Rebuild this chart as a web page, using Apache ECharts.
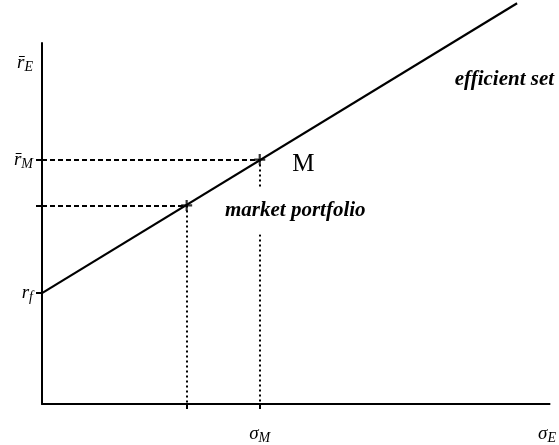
<!DOCTYPE html>
<html>
<head>
<meta charset="utf-8">
<script src="https://cdn.jsdelivr.net/npm/echarts@6/dist/echarts.min.js"></script>
<style>
  html, body { margin: 0; padding: 0; background: #fff; }
  #main { width: 559px; height: 445px; }
</style>
</head>
<body>
<div id="main"></div>
<script>
// capital market line: risk (sigma) on x, expected return on y
const rf = 3.07
const lineEnd = [9.36, 11.1]
const marketPt = [4.29, 6.77]   // M
const otherPt = [2.85, 5.5]     // point below M on the line
const rE = 9.45                  // where the r_E label sits
const sigmaE = 9.95              // where the sigma_E label sits

const serif = 'Liberation Serif'
const chart = echarts.init(document.getElementById('main'))

const yLabels = {}
yLabels[rE] = '{r|r\u0304}{s|E}'
yLabels[marketPt[1]] = '{r|r\u0304}{s|M}'
yLabels[rf] = '{r|r}{s|f}'

const xLabels = {}
xLabels[marketPt[0]] = '{r|\u03c3}{s|M}'
xLabels[sigmaE] = '{r|\u03c3}{s|E}'

const mathRich = {
  r: { fontFamily: serif, fontStyle: 'italic', fontSize: 19, color: '#000' },
  s: { fontFamily: serif, fontStyle: 'italic', fontSize: 14, color: '#000', padding: [9, 0, 0, 0] }
}

const crossPath = 'path://M4,0H6V4H10V6H6V10H4V6H0V4H4Z'

const option = {
  backgroundColor: '#fff',
  animation: false,
  grid: { left: 42, right: 4, top: 43, bottom: 37 },
  xAxis: {
    type: 'value', min: 0, max: 10,
    axisLine: { lineStyle: { color: '#000', width: 2 } },
    splitLine: { show: false },
    axisTick: { customValues: [otherPt[0], marketPt[0]], length: 5, lineStyle: { color: '#000', width: 2 } },
    axisLabel: {
      customValues: [marketPt[0], sigmaE],
      margin: 18,
      formatter: v => xLabels[v] || '',
      rich: mathRich
    }
  },
  yAxis: {
    type: 'value', min: 0, max: 10,
    axisLine: { lineStyle: { color: '#000', width: 2 } },
    splitLine: { show: false },
    axisTick: { customValues: [rf, otherPt[1], marketPt[1]], length: 6, lineStyle: { color: '#000', width: 2 } },
    axisLabel: {
      customValues: [rf, marketPt[1], rE],
      margin: 9,
      formatter: v => yLabels[v] || '',
      rich: mathRich
    }
  },
  series: [
    {
      type: 'line',
      clip: false,
      symbol: 'none',
      data: [[0, rf], lineEnd],
      lineStyle: { color: '#000', width: 2.2 },
      markLine: {
        silent: true,
        symbol: 'none',
        z: 1,
        label: { show: false },
        lineStyle: { color: '#000', width: 2, type: [5, 3] },
        data: [
          [{ coord: [0, marketPt[1]] }, { coord: marketPt }],
          [{ coord: [0, otherPt[1]] }, { coord: otherPt }],
          [{ coord: marketPt, lineStyle: { type: [2, 3] } }, { coord: [marketPt[0], 0] }],
          [{ coord: otherPt, lineStyle: { type: [2, 3] } }, { coord: [otherPt[0], 0] }]
        ]
      },
      markPoint: {
        symbol: 'circle', symbolSize: 0,
        z: 10,
        label: {
          fontFamily: serif, fontStyle: 'italic', fontWeight: 'bold',
          fontSize: 21, color: '#000'
        },
        data: [
          { coord: [9.11, 8.98], value: 'efficient set', label: { formatter: 'efficient set' } },
          {
            coord: [4.99, 5.35], value: 'market portfolio',
            label: { formatter: 'market portfolio', backgroundColor: '#fff', padding: [18, 2, 8, 2] }
          },
          { coord: [5.15, 6.64], value: 'M', label: { formatter: 'M', fontStyle: 'normal', fontWeight: 'normal', fontSize: 25 } }
        ]
      }
    },
    {
      type: 'scatter',
      symbol: crossPath,
      symbolSize: 11,
      itemStyle: { color: '#000' },
      data: [otherPt, marketPt],
      z: 5
    }
  ]
}

chart.setOption(option)
</script>
</body>
</html>
